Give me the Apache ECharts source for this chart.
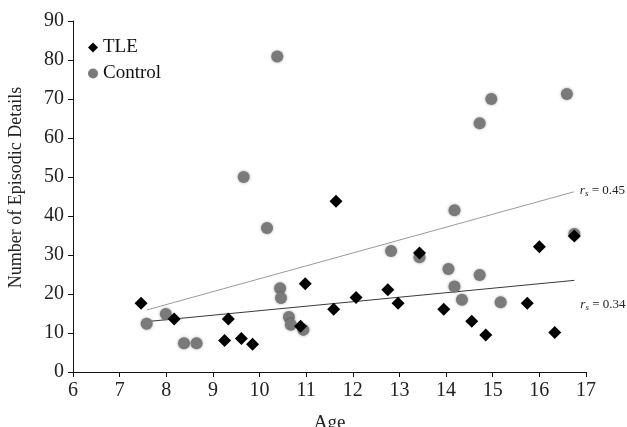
<!DOCTYPE html>
<html>
<head>
<meta charset="utf-8">
<script src="https://cdn.jsdelivr.net/npm/echarts@6/dist/echarts.min.js"></script>
<style>
  html, body { margin: 0; padding: 0; background: #fff; }
  #chart { width: 627px; height: 427px; }
</style>
</head>
<body>
<div id="chart"></div>
<script>
// TLE group: [age, episodic details]
const tleAge = [7.46, 8.17, 9.25, 9.33, 9.61, 9.85, 10.88, 10.98, 11.64, 11.59, 12.07,
                12.75, 12.97, 13.43, 13.95, 14.55, 14.85, 15.74, 16.0, 16.33, 16.75];
const tleDetails = [17.6, 13.6, 8.1, 13.6, 8.6, 7.1, 11.7, 22.6, 43.8, 16.1, 19.1,
                    21.1, 17.6, 30.5, 16.1, 13.0, 9.5, 17.6, 32.1, 10.1, 34.9];

// Control group
const ctlAge = [10.38, 9.66, 14.97, 14.72, 16.59, 14.18, 10.16, 7.58, 7.99, 8.38, 8.65, 10.44,
                10.46, 10.63, 10.67, 10.94, 12.82, 13.43, 14.05, 14.18, 14.34, 14.72, 15.17, 16.75];
const ctlDetails = [80.9, 50.0, 70.0, 63.8, 71.3, 41.5, 36.9, 12.4, 14.9, 7.4, 7.4, 21.5,
                    19.0, 14.1, 12.1, 10.8, 31.0, 29.4, 26.4, 21.9, 18.5, 24.9, 17.9, 35.4];

// fitted lines, start and end
const ctlFit = [[7.58, 15.9], [16.74, 46.2]];
const tleFit = [[7.47, 12.8], [16.75, 23.5]];
const ctlR = '0.45';
const tleR = '0.34';

const xTicks = [6, 17, 1];
const yTicks = [0, 90, 10];

const serif = '"Liberation Serif", "DejaVu Serif", serif';

function pairs(xs, ys) {
    return xs.map((x, i) => [x, ys[i]]);
}

// r_s = value label at the end of a fit line
function rLabel(val, dy) {
    return {
        show: true,
        distance: 6,
        offset: [0, dy],
        formatter: '{r|r}{s|s}{t| = ' + val + '}',
        rich: {
            r: { fontFamily: serif, fontStyle: 'italic', fontSize: 13, color: '#222' },
            s: { fontFamily: serif, fontStyle: 'italic', fontSize: 9, color: '#222', padding: [6, 0, 0, 0] },
            t: { fontFamily: serif, fontSize: 13, color: '#222' }
        }
    };
}

const chart = echarts.init(document.getElementById('chart'));
const option = {
    animation: false,
    backgroundColor: '#fff',
    grid: { left: 73, right: 41, top: 21, bottom: 55, containLabel: false, outerBoundsMode: 'none' },
    legend: {
        data: [
            { name: 'TLE', icon: 'diamond' },
            { name: 'Control', icon: 'circle' }
        ],
        orient: 'vertical',
        left: 83,
        top: 33,
        itemWidth: 10,
        itemHeight: 10,
        itemGap: 7,
        textStyle: { fontFamily: serif, fontSize: 19, color: '#111' }
    },
    xAxis: {
        type: 'value',
        min: xTicks[0],
        max: xTicks[1],
        interval: xTicks[2],
        name: 'Age',
        nameLocation: 'middle',
        nameGap: 42,
        nameTextStyle: { fontFamily: serif, fontSize: 19, color: '#222' },
        axisLine: { lineStyle: { color: '#111', width: 1 } },
        axisTick: { show: true, length: 5, lineStyle: { color: '#111' } },
        axisLabel: { fontFamily: serif, fontSize: 20, color: '#222', margin: 9 },
        splitLine: { show: false }
    },
    yAxis: {
        type: 'value',
        min: yTicks[0],
        max: yTicks[1],
        interval: yTicks[2],
        name: 'Number of Episodic Details',
        nameLocation: 'middle',
        nameGap: 48,
        nameTextStyle: { fontFamily: serif, fontSize: 18, color: '#222', padding: [0, 0, 0, 18] },
        axisLine: { show: true, lineStyle: { color: '#111', width: 1 } },
        axisTick: { show: true, length: 5, lineStyle: { color: '#111' } },
        axisLabel: { fontFamily: serif, fontSize: 20, color: '#222', margin: 9 },
        splitLine: { show: false }
    },
    series: [
        {
            name: 'Control fit',
            type: 'line',
            data: ctlFit,
            symbol: 'none',
            lineStyle: { color: '#9a9a9a', width: 1 },
            endLabel: rLabel(ctlR, -1),
            silent: true,
            z: 1
        },
        {
            name: 'TLE fit',
            type: 'line',
            data: tleFit,
            symbol: 'none',
            lineStyle: { color: '#3a3a3a', width: 1 },
            endLabel: rLabel(tleR, 24),
            silent: true,
            z: 1
        },
        {
            name: 'Control',
            type: 'scatter',
            data: pairs(ctlAge, ctlDetails),
            symbol: 'circle',
            symbolSize: 12,
            itemStyle: {
                color: '#7a7a7a',
                opacity: 1,
                shadowBlur: 3,
                shadowColor: 'rgba(0,0,0,0.35)'
            },
            z: 2
        },
        {
            name: 'TLE',
            type: 'scatter',
            data: pairs(tleAge, tleDetails),
            symbol: 'diamond',
            symbolSize: 13,
            itemStyle: { color: '#000', opacity: 1 },
            z: 3
        }
    ]
};
chart.setOption(option);

window.addEventListener('resize', () => {
    chart.resize();
});
</script>
</body>
</html>
